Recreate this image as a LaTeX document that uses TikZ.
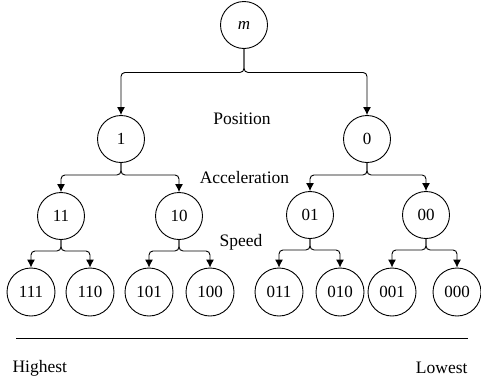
\documentclass[tikz,border=0pt]{standalone}
\usepackage{fontspec}
\setmainfont{Liberation Serif}
\usetikzlibrary{arrows.meta}

\tikzset{
  state/.style={draw, circle, line width=0.9pt, minimum size=47pt, inner sep=0pt},
  leaf/.style={state, minimum size=48pt},
  branch/.style={line width=0.9pt, rounded corners=4pt, -{Latex[length=8pt,width=8pt]}},
  level/.style={font=\fontsize{17.5}{20}\selectfont}
}

\begin{document}
\begin{tikzpicture}[x=1pt, y=1pt, font=\fontsize{17}{20}\selectfont]
   	\useasboundingbox (0,0) rectangle (481,-386);

	%Raiz
   	\node[state] (m) at (244,-25) {\textit{m}};

	%Primer nivel
   	\node[state] (n1) at (121,-139) {1};
   	\node[state] (n0) at (367,-139) {0};

	%Segundo nivel
   	\node[state] (n11) at (61,-216) {11};
   	\node[state] (n10) at (179,-216) {10};
   	\node[state] (n01) at (310,-215) {01};
   	\node[state] (n00) at (426,-215) {00};

	%Tercer nivel
   	\node[leaf] (n111) at (31,-292) {111};
   	\node[leaf] (n110) at (90,-292) {110};
   	\node[leaf] (n101) at (149,-292) {101};
   	\node[leaf] (n100) at (210,-292) {100};
   	\node[leaf] (n011) at (279,-292) {011};
   	\node[leaf] (n010) at (340,-292) {010};
   	\node[leaf] (n001) at (392,-292) {001};
   	\node[leaf] (n000) at (457,-292) {000};

	%Ramas
   	\foreach \a/\b in {m/n1, m/n0}
   		\draw[branch] (\a.south) -- ++(0,-23.5) -| (\b.north);
   	\foreach \a/\b in {n1/n11, n1/n10, n0/n01, n0/n00}
   		\draw[branch] (\a.south) -- ++(0,-12) -| (\b.north);
   	\foreach \a/\b in {n11/n111, n11/n110, n10/n101, n10/n100, n01/n011, n01/n010, n00/n001, n00/n000}
   		\draw[branch] (\a.south) -- ++(0,-11) -| (\b.north);

	%Etiquetas de nivel
   	\node[level] (pos) at (242,-119) {Position};
   	\node[level] (acc) at (244.5,-178) {Acceleration};
   	\node[level] (spd) at (241,-242) {Speed};

	%Escala
   	\coordinate (l) at (16,-338);
   	\coordinate (r) at (468,-338);
   	\draw[line width=0.9pt] (l) -- (r);
   	\node[level, anchor=west] (hi) at (9,-368) {Highest};
   	\node[level, anchor=east] (lo) at (471,-368) {Lowest};
\end{tikzpicture}
\end{document}
